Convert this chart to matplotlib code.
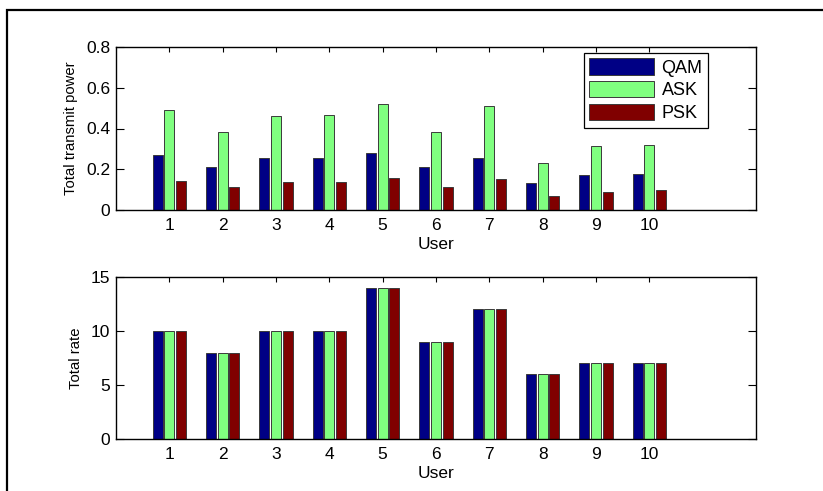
import matplotlib
matplotlib.use("Agg")
import matplotlib.pyplot as plt
import numpy as np
from matplotlib.patches import Rectangle

plt.rcParams['font.family'] = ['Liberation Sans', 'DejaVu Sans']

users = [1, 2, 3, 4, 5, 6, 7, 8, 9, 10]
schemes = ["QAM", "ASK", "PSK"]
colors = ["#000085", "#80FF80", "#800000"]

power_qam = [0.268, 0.210, 0.256, 0.256, 0.278, 0.210, 0.256, 0.131, 0.171, 0.177]
power_ask = [0.490, 0.381, 0.460, 0.465, 0.522, 0.381, 0.511, 0.233, 0.314, 0.319]
power_psk = [0.141, 0.115, 0.136, 0.136, 0.159, 0.115, 0.154, 0.067, 0.090, 0.097]

rate_qam = [10, 8, 10, 10, 14, 9, 12, 6, 7, 7]
rate_ask = [10, 8, 10, 10, 14, 9, 12, 6, 7, 7]
rate_psk = [10, 8, 10, 10, 14, 9, 12, 6, 7, 7]

W, H = 823, 491
fig = plt.figure(figsize=(W / 100, H / 100), dpi=100)

# outer frame
fig.patches.append(Rectangle((7.5 / W, -0.1), 2, 1 - 9.5 / H + 0.1,
                             transform=fig.transFigure, fill=False,
                             edgecolor="black", linewidth=1.6, zorder=0))

def frac(x0, y0, x1, y1):
    return [x0 / W, 1 - y1 / H, (x1 - x0) / W, (y1 - y0) / H]

ax1 = fig.add_axes(frac(116, 47, 756, 210))
ax2 = fig.add_axes(frac(116, 277, 756, 439))

x = np.array(users, dtype=float)
offsets = [-0.22, 0.0, 0.22]
width = 0.19

def draw(ax, series, ylim, yticks, ylabel):
    for s, off, c, name in zip(series, offsets, colors, schemes):
        ax.bar(x + off, s, width=width, color=c, edgecolor="#3a3a3a",
               linewidth=0.7, label=name, zorder=2)
    ax.set_xlim(0, 12)
    ax.set_ylim(*ylim)
    ax.set_xticks(users)
    ax.set_yticks(yticks)
    ax.tick_params(axis="both", direction="in", top=True, right=True,
                   labelsize=12.5, width=0.8, colors="black")
    ax.tick_params(axis="x", length=3.5, pad=6)
    ax.tick_params(axis="y", length=6, pad=4)
    for sp in ax.spines.values():
        sp.set_linewidth(1.0)
    ax.set_xlabel("User", fontsize=12.5, labelpad=3)
    ax.set_ylabel(ylabel, fontsize=10.7, labelpad=6)

draw(ax1, [power_qam, power_ask, power_psk], (0, 0.8),
     [0, 0.2, 0.4, 0.6, 0.8], "Total transmit power")
ax1.set_yticklabels(["0", "0.2", "0.4", "0.6", "0.8"])
draw(ax2, [rate_qam, rate_ask, rate_psk], (0, 15),
     [0, 5, 10, 15], "Total rate")

leg = ax1.legend(loc="upper left", bbox_to_anchor=(0.731, 0.963),
                 borderaxespad=0, fontsize=13, handlelength=3.6,
                 handleheight=1.0, labelspacing=0.25, handletextpad=0.4,
                 borderpad=0.3, fancybox=False, framealpha=1,
                 edgecolor="black")
leg.get_frame().set_linewidth(0.9)

fig.savefig("out.png", dpi=100)
